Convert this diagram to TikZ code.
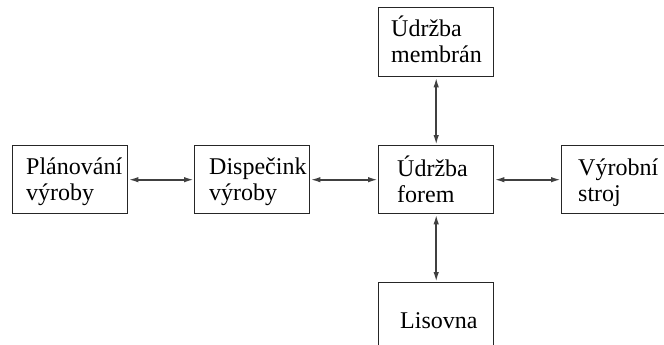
\documentclass[tikz,border=0pt]{standalone}
\usepackage{fontspec}
\setmainfont{Liberation Serif}
\usetikzlibrary{arrows.meta}
\begin{document}
\begin{tikzpicture}[x=1pt,y=-1pt,
  box/.style={draw=black!85,line width=1.4pt,rectangle,inner sep=0pt,anchor=north west},
  txt/.style={anchor=base west,inner sep=0pt,font=\fontsize{24}{26}\selectfont,text=black},
  link/.style={draw=black!75,line width=1.8pt,{Latex[length=10pt,width=5.5pt]}-{Latex[length=10pt,width=5.5pt]}}]
\clip (0,0) rectangle (664,345);
% boxes
\node[box,minimum width=115pt,minimum height=68pt] (plan) at (12,145) {};
\node[box,minimum width=115pt,minimum height=68pt] (disp) at (194,145) {};
\node[box,minimum width=115pt,minimum height=68pt] (forem) at (378,145) {};
\node[box,minimum width=115pt,minimum height=68pt] (stroj) at (561,145) {};
\node[box,minimum width=115pt,minimum height=69pt] (membr) at (378,7) {};
\node[box,minimum width=115pt,minimum height=68pt] (lis) at (378,282) {};
% texts
\node[txt] (t1a) at (26,174) {Plánování};
\node[txt] (t1b) at (26,200) {výroby};
\node[txt] (t2a) at (209,174) {Dispečink};
\node[txt] (t2b) at (209,200) {výroby};
\node[txt] (t3a) at (397,176) {Údržba};
\node[txt] (t3b) at (397,202) {forem};
\node[txt] (t4a) at (578,175) {Výrobní};
\node[txt] (t4b) at (578,201) {stroj};
\node[txt] (t5a) at (391,37) {Údržba};
\node[txt] (t5b) at (391,63) {membrán};
\node[txt] (t6) at (400,328) {Lisovna};
% connectors
\draw[link] (plan.east) -- (disp.west);
\draw[link] (disp.east) -- (forem.west);
\draw[link] (forem.east) -- (stroj.west);
\draw[link] (forem.north) -- (membr.south);
\draw[link] (forem.south) -- (lis.north);
\end{tikzpicture}
\end{document}
